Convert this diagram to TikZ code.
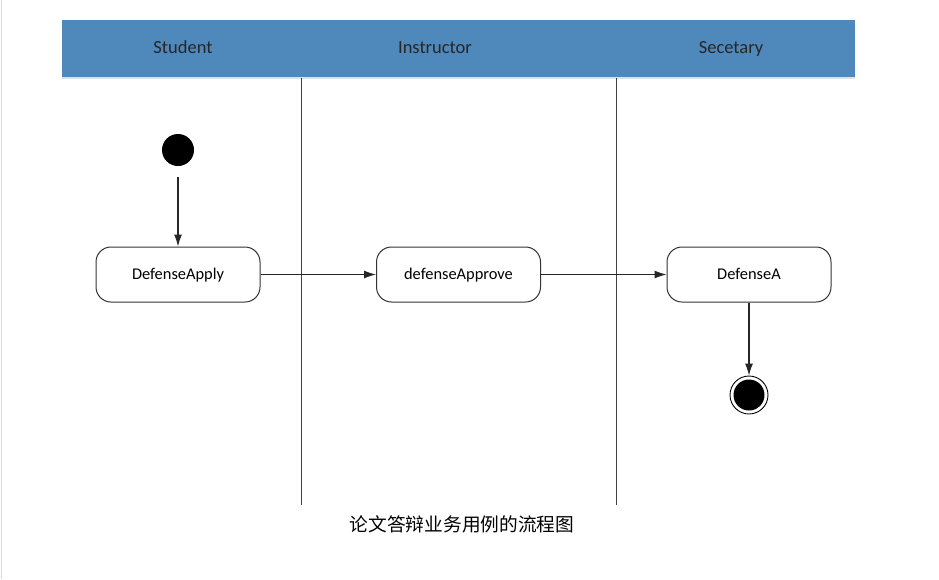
\documentclass[tikz,border=0pt]{standalone}
\usepackage{fontspec}
\setmainfont{Carlito}
\newfontfamily\cjk{Noto Sans CJK SC}
\usetikzlibrary{arrows.meta}
\tikzset{
  lanetitle/.style={font=\fontsize{18.5}{22}\selectfont, text=black!85, text height=2.4ex, text depth=0.4ex},
  actbox/.style={draw=black!80, line width=1pt, rounded corners=15pt, fill=white,
    minimum width=164pt, minimum height=55pt, font=\fontsize{16.4}{19}\selectfont, inner sep=0pt,
    text height=2.5ex, text depth=0.4ex},
  flow/.style={draw=black!85, line width=1.1pt, -{Latex[length=12pt,width=8pt]}},
  laneline/.style={draw=black!75, line width=0.9pt}
}
\begin{document}
\begin{tikzpicture}[x=1pt,y=-1pt]
\useasboundingbox (0,0) rectangle (939,579);
\fill[white] (0,0) rectangle (939,579);
\draw[black!15, line width=0.8pt] (1.5,0) -- (1.5,579);
% header
\fill[black!12] (62,77) rectangle (855,79);
\fill[fill={rgb,255:red,79;green,136;blue,187}] (62,20) rectangle (855,77);
\node[lanetitle] (t1) at (183,49) {Student};
\node[lanetitle] (t2) at (435,49) {Instructor};
\node[lanetitle] (t3) at (731,49) {Secetary};
% lane separators
\coordinate (l1a) at (301,78); \coordinate (l1b) at (301,505);
\coordinate (l2a) at (616,78); \coordinate (l2b) at (616,505);
\draw[laneline] (l1a) -- (l1b);
\draw[laneline] (l2a) -- (l2b);
% nodes
\node[circle, fill=black, minimum size=32pt, inner sep=0pt] (start) at (178,150) {};
\node[actbox] (apply) at (178,274.5) {DefenseApply};
\node[actbox] (approve) at (458.5,274.5) {defenseApprove};
\node[actbox] (defa) at (749,274.5) {DefenseA};
\node[circle, draw=black, line width=0.9pt, fill=white, minimum size=38pt, inner sep=0pt] (end) at (749,395) {};
\node[circle, fill=black, minimum size=31pt, inner sep=0pt] (endin) at (749,395) {};
% flows
\coordinate (s0) at (178,177);
\draw[flow] (s0) -- (apply.north);
\draw[flow] (apply.east) -- (approve.west);
\draw[flow] (approve.east) -- (defa.west);
\draw[flow] (defa.south) -- (end.north);
% caption
\node[font=\cjk\fontsize{18.7}{22}\selectfont] (cap) at (462,524) {论文答辩业务用例的流程图};
\end{tikzpicture}
\end{document}
